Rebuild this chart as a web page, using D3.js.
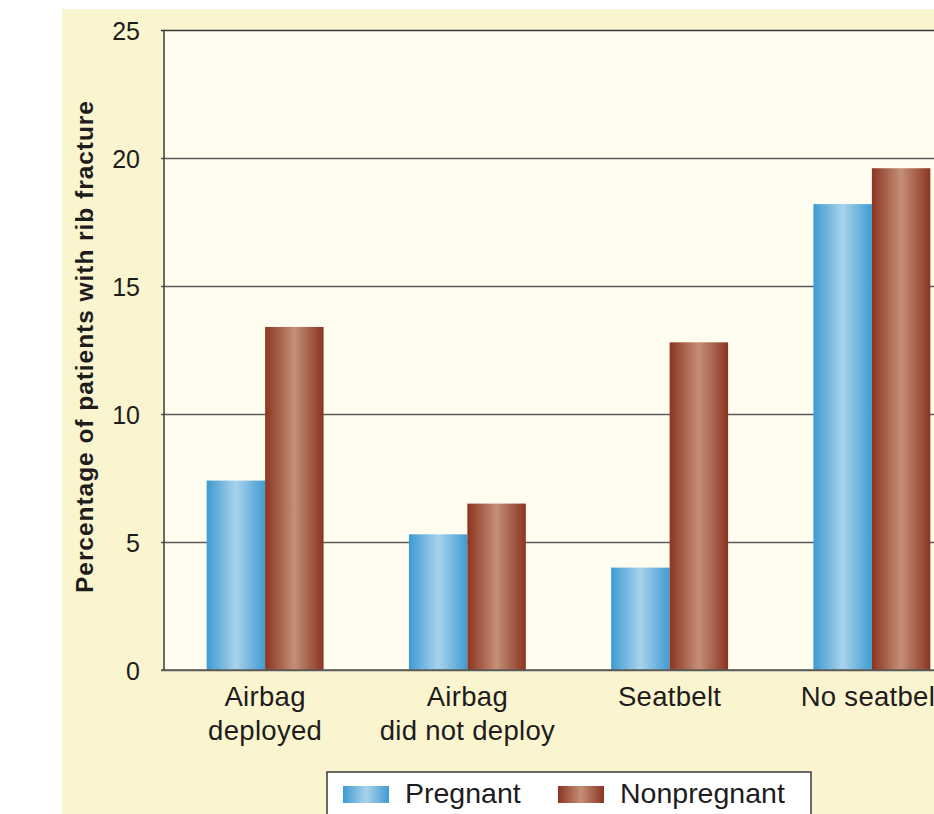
<!DOCTYPE html>
<html>
<head>
<meta charset="utf-8">
<script src="https://cdn.jsdelivr.net/npm/d3@7"></script>
<style>
  html, body { margin: 0; padding: 0; background: #ffffff; }
  svg { display: block; }
</style>
</head>
<body>
<svg id="chart" width="934" height="814"></svg>
<script>
// Rib fracture rates by restraint status, pregnant vs nonpregnant patients
const categories = ["Airbag deployed", "Airbag did not deploy", "Seatbelt", "No seatbelt"];
const categoryLines = [["Airbag", "deployed"], ["Airbag", "did not deploy"], ["Seatbelt"], ["No seatbelt"]];
const series = ["Pregnant", "Nonpregnant"];
const pregnantValues = [7.4, 5.3, 4.0, 18.2];
const nonpregnantValues = [13.4, 6.5, 12.8, 19.6];
const yTicks = [0, 5, 10, 15, 20, 25];
const yTitle = "Percentage of patients with rib fracture";

const valuesBySeries = { "Pregnant": pregnantValues, "Nonpregnant": nonpregnantValues };

const svg = d3.select("#chart");
const W = 934, H = 814;
const plot = { left: 164, top: 30, right: 973, bottom: 670 };
const FONT = "'Liberation Sans', Arial, Helvetica, sans-serif";
const TEXT = "#1e1c1c";

// gradients giving the bars a rounded, tube-like shading
const defs = svg.append("defs");
const gradients = {
  "Pregnant": ["#3d9bd2", "#a9d2ec", "#3f9cd2"],
  "Nonpregnant": ["#8c3520", "#c48f78", "#8b3420"]
};
Object.entries(gradients).forEach(([name, cols], i) => {
  const g = defs.append("linearGradient")
    .attr("id", "grad" + i)
    .attr("x1", "0").attr("x2", "1").attr("y1", "0").attr("y2", "0");
  g.append("stop").attr("offset", "0%").attr("stop-color", cols[0]);
  g.append("stop").attr("offset", "50%").attr("stop-color", cols[1]);
  g.append("stop").attr("offset", "100%").attr("stop-color", cols[2]);
});
const fillFor = s => "url(#grad" + series.indexOf(s) + ")";

// background panel
svg.append("rect")
  .attr("x", 62).attr("y", 9)
  .attr("width", W - 62).attr("height", H - 9)
  .attr("fill", "#faf5cf");

// plot area
svg.append("rect")
  .attr("x", plot.left).attr("y", plot.top)
  .attr("width", plot.right - plot.left).attr("height", plot.bottom - plot.top)
  .attr("fill", "#fffdf0");

// scales
const y = d3.scaleLinear().domain([0, 25]).range([plot.bottom, plot.top]);
const x0 = d3.scaleBand().domain(categories).range([plot.left, plot.right]).padding(0);
const x1 = d3.scaleBand().domain(series).range([0, x0.bandwidth()])
  .paddingInner(0).paddingOuter(0.73);

// gridlines with short outward ticks
const grid = svg.append("g")
  .attr("transform", `translate(${plot.left - 3},0)`)
  .call(d3.axisLeft(y).tickValues(yTicks).tickFormat("")
    .tickSize(-(plot.right - plot.left + 3)));
grid.select(".domain").remove();
grid.selectAll(".tick line")
  .attr("stroke", d => d === 25 ? "#3a3a3a" : "#5a5a58")
  .attr("stroke-width", 1.3);

// bars
const groups = svg.append("g").selectAll("g")
  .data(categories)
  .join("g")
  .attr("transform", d => `translate(${x0(d)},0)`);

groups.selectAll("rect")
  .data((c, i) => series.map(s => ({ s, v: valuesBySeries[s][i] })))
  .join("rect")
  .attr("x", d => x1(d.s))
  .attr("y", d => y(d.v))
  .attr("width", x1.bandwidth())
  .attr("height", d => y(0) - y(d.v))
  .attr("fill", d => fillFor(d.s));

// baseline and left axis line
svg.append("line")
  .attr("x1", plot.left - 3).attr("x2", plot.right)
  .attr("y1", y(0)).attr("y2", y(0))
  .attr("stroke", "#5a5a58").attr("stroke-width", 1.5);
svg.append("line")
  .attr("x1", plot.left).attr("x2", plot.left)
  .attr("y1", plot.top).attr("y2", plot.bottom)
  .attr("stroke", "#3a3a3a").attr("stroke-width", 1.5);

// y tick labels
const yAxis = svg.append("g")
  .attr("transform", `translate(${plot.left},0)`)
  .call(d3.axisLeft(y).tickValues(yTicks).tickSize(0).tickPadding(24));
yAxis.select(".domain").remove();
yAxis.selectAll("text")
  .attr("font-family", FONT)
  .attr("font-size", 25)
  .attr("fill", TEXT)
  .attr("dy", "0.36em");

// y axis title
svg.append("text")
  .attr("transform", `translate(93,347) rotate(-90)`)
  .attr("text-anchor", "middle")
  .attr("font-family", FONT)
  .attr("font-weight", "bold")
  .attr("font-size", 24.5)
  .attr("fill", TEXT)
  .attr("textLength", 492)
  .attr("lengthAdjust", "spacing")
  .text(yTitle);

// category labels
const catLabels = svg.append("g");
categories.forEach((c, i) => {
  const t = catLabels.append("text")
    .attr("x", x0(c) + x0.bandwidth() / 2)
    .attr("y", 706)
    .attr("text-anchor", "middle")
    .attr("font-family", FONT)
    .attr("font-size", 27.5)
    .attr("letter-spacing", 0.3)
    .attr("fill", TEXT);
  categoryLines[i].forEach((line, j) => {
    t.append("tspan")
      .attr("x", x0(c) + x0.bandwidth() / 2)
      .attr("dy", j === 0 ? 0 : 34)
      .text(line);
  });
});

// legend
const legend = svg.append("g");
legend.append("rect")
  .attr("x", 327).attr("y", 772)
  .attr("width", 484).attr("height", 70)
  .attr("fill", "#ffffff")
  .attr("stroke", "#3a3a3a").attr("stroke-width", 1.5);
const legendX = { "Pregnant": 343, "Nonpregnant": 558 };
series.forEach(s => {
  legend.append("rect")
    .attr("x", legendX[s]).attr("y", 786)
    .attr("width", 46).attr("height", 17)
    .attr("fill", fillFor(s));
  legend.append("text")
    .attr("x", legendX[s] + 62).attr("y", 803)
    .attr("font-family", FONT)
    .attr("font-size", 28.5)
    .attr("fill", TEXT)
    .text(s);
});
</script>
</body>
</html>
